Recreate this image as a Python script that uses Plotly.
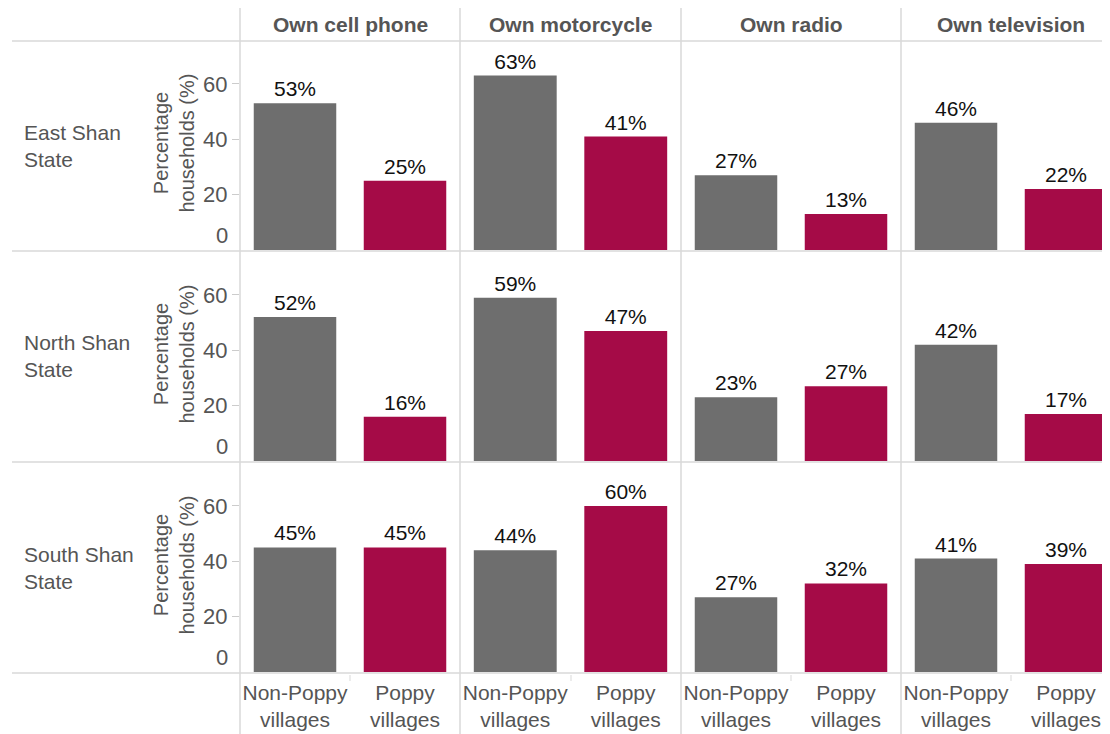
import plotly.graph_objects as go

# data
regions = ["East Shan<br>State", "North Shan<br>State", "South Shan<br>State"]
assets = ["Own cell phone", "Own motorcycle", "Own radio", "Own television"]
groups = ["Non-Poppy<br>villages", "Poppy<br>villages"]

# values[row][col] = [non-poppy, poppy]
east_vals = [[53, 25], [63, 41], [27, 13], [46, 22]]
north_vals = [[52, 16], [59, 47], [23, 27], [42, 17]]
south_vals = [[45, 45], [44, 60], [27, 32], [41, 39]]
values = [east_vals, north_vals, south_vals]

bar_colors = ["#6e6e6e", "#a50b47"]
ytick_vals = [20, 40, 60]

# the page body has an 8px margin, so the figure starts at (8, 8) on screen
OFF = 8
W, H = 1110 - OFF, 734 - OFF
FONT = "Liberation Sans, Arial, sans-serif"
GREY_TXT = "#555555"
LINE = "#d9d9d9"

# panel edges in screen pixels
col_px = [(240, 460), (460, 681), (681, 901), (901, 1110)]
col_rng = [[-0.5, 1.5], [-0.5, 1.5], [-0.5, 1.5], [-0.5, 1.4]]
row_px = [(41, 250), (252, 461), (463, 672)]
y_max = 75.5


def fx(p):
    return (p - OFF) / W


def fy(p):
    return 1 - (p - OFF) / H


fig = go.Figure()
layout = {}
annotations = []
shapes = []

k = 0
for r, (top, bot) in enumerate(row_px):
    for c, (left, right) in enumerate(col_px):
        k += 1
        xa = "x" if k == 1 else f"x{k}"
        ya = "y" if k == 1 else f"y{k}"
        fig.add_trace(go.Bar(
            x=[0, 1],
            y=values[r][c],
            marker=dict(color=bar_colors, line=dict(width=0)),
            width=0.75,
            text=[f"{v}%" for v in values[r][c]],
            textposition="outside",
            textfont=dict(family=FONT, size=21, color="#111111"),
            cliponaxis=False,
            xaxis=xa, yaxis=ya,
            showlegend=False,
            hoverinfo="skip",
        ))
        bottom_row = r == len(row_px) - 1
        layout["xaxis" if k == 1 else f"xaxis{k}"] = dict(
            domain=[fx(left), min(fx(right), 1)],
            range=col_rng[c],
            anchor=ya,
            showgrid=False, zeroline=False, showline=False,
            tickvals=[0, 1] if bottom_row else [],
            ticktext=groups,
            ticks="",
            ticklabelstandoff=6,
            tickfont=dict(family=FONT, size=21, color=GREY_TXT),
            fixedrange=True,
        )
        layout["yaxis" if k == 1 else f"yaxis{k}"] = dict(
            domain=[fy(bot), fy(top)],
            range=[0, y_max],
            anchor=xa,
            showgrid=False, zeroline=False, showline=False,
            tickvals=ytick_vals if c == 0 else [],
            ticks="outside" if c == 0 else "",
            ticklen=7, tickcolor="#cccccc", tickwidth=1,
            tickfont=dict(family=FONT, size=22, color=GREY_TXT),
            fixedrange=True,
        )
        if c == 0:
            # Tableau lifts the zero label above the baseline
            annotations.append(dict(
                x=fx(230), xref="paper", y=0, yref=ya,
                text="0", showarrow=False, xanchor="right", yanchor="bottom",
                yshift=0, font=dict(family=FONT, size=22, color=GREY_TXT),
            ))

for r, (top, bot) in enumerate(row_px):
    mid = (top + bot) / 2
    annotations.append(dict(
        x=fx(22), y=fy(mid), xref="paper", yref="paper",
        text=regions[r], showarrow=False, xanchor="left", yanchor="middle",
        align="left", font=dict(family=FONT, size=21, color=GREY_TXT),
    ))
    annotations.append(dict(
        x=fx(173), y=fy(mid - 2), xref="paper", yref="paper",
        text="Percentage<br>households (%)", showarrow=False, textangle=-90,
        xanchor="center", yanchor="middle",
        font=dict(family=FONT, size=20, color=GREY_TXT),
    ))

for c, (left, right) in enumerate(col_px):
    annotations.append(dict(
        x=fx(left + 110), y=fy(24), xref="paper", yref="paper",
        text=f"<b>{assets[c]}</b>", showarrow=False, xanchor="center", yanchor="middle",
        font=dict(family=FONT, size=21, color=GREY_TXT),
    ))

# grid lines separating the panels
for py in [41, 251, 462, 673]:
    shapes.append(dict(type="line", xref="paper", yref="paper",
                       x0=fx(12), x1=1, y0=fy(py), y1=fy(py),
                       line=dict(color=LINE, width=1.5)))
for px in [240, 460, 681, 901]:
    shapes.append(dict(type="line", xref="paper", yref="paper",
                       x0=fx(px), x1=fx(px), y0=fy(8), y1=0,
                       line=dict(color=LINE, width=1.5)))
for px in [350, 571, 791, 1011]:
    shapes.append(dict(type="line", xref="paper", yref="paper",
                       x0=fx(px), x1=fx(px), y0=fy(675), y1=fy(681),
                       line=dict(color=LINE, width=1)))

fig.update_layout(
    width=W, height=H,
    margin=dict(l=0, r=0, t=0, b=0),
    paper_bgcolor="white", plot_bgcolor="white",
    bargap=0.25,
    annotations=annotations,
    shapes=shapes,
    **layout,
)

fig.write_html("out.html")
